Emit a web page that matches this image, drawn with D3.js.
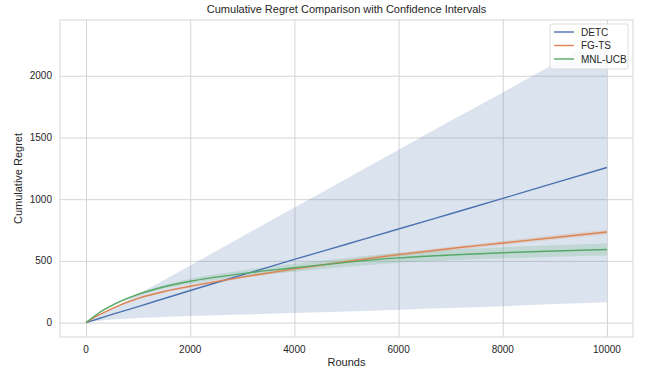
<!DOCTYPE html>
<html>
<head>
<meta charset="utf-8">
<script src="https://cdn.jsdelivr.net/npm/d3@7"></script>
<style>
  body { margin: 0; background: #fff; }
  text { font-family: "Liberation Sans", Arial, sans-serif; fill: #262626; }
</style>
</head>
<body>
<div id="chart"></div>
<script>
var rounds = [0, 250, 500, 1000, 1500, 2000, 3000, 4000, 5000, 6000, 7000, 8000, 9000, 10000];

var detcMean  = [0, 33, 66, 130, 195, 260, 386, 512, 635, 758, 882, 1006, 1132, 1257];
var detcLower = [0, 15, 25, 38, 46, 53, 65, 77, 90, 105, 118, 133, 150, 165];
var detcUpper = [0, 55, 112, 230, 345, 462, 698, 932, 1165, 1400, 1635, 1865, 2100, 2335];

var fgtsMean  = [0, 62, 114, 196, 252, 294, 368, 435, 495, 551, 600, 645, 690, 734];
var fgtsLower = [0, 58, 108, 188, 243, 284, 357, 423, 482, 537, 585, 629, 673, 716];
var fgtsUpper = [0, 66, 120, 204, 261, 304, 379, 447, 508, 565, 615, 661, 707, 752];

var mnlMean  = [0, 80, 140, 228, 290, 335, 397, 444, 488, 524, 548, 566, 580, 592];
var mnlLower = [0, 75, 132, 216, 276, 315, 371, 412, 452, 485, 506, 521, 533, 543];
var mnlUpper = [0, 85, 148, 240, 304, 355, 423, 476, 524, 563, 590, 611, 627, 641];

var seriesNames = ["DETC", "FG-TS", "MNL-UCB"];
var xTicks = [0, 2000, 4000, 6000, 8000, 10000];
var yTicks = [0, 500, 1000, 1500, 2000];

var colors = ["#4c72b0", "#dd8452", "#55a868"];
var series = [
  {name: seriesNames[0], mean: detcMean, lo: detcLower, hi: detcUpper},
  {name: seriesNames[1], mean: fgtsMean, lo: fgtsLower, hi: fgtsUpper},
  {name: seriesNames[2], mean: mnlMean,  lo: mnlLower,  hi: mnlUpper}
];

var W = 646, H = 374;
var margin = {top: 20, right: 13, bottom: 37, left: 60};
var width = W - margin.left - margin.right,
    height = H - margin.top - margin.bottom;

// matplotlib-style 5% padding around the data
var xMin = d3.min(rounds), xMax = d3.max(rounds);
var yMin = d3.min(series, function(s) { return d3.min(s.lo); }),
    yMax = d3.max(series, function(s) { return d3.max(s.hi); });
var xPad = (xMax - xMin) * 0.05, yPad = (yMax - yMin) * 0.05;

var x = d3.scaleLinear().domain([xMin - xPad, xMax + xPad]).range([0, width]);
var y = d3.scaleLinear().domain([yMin - yPad, yMax + yPad]).range([height, 0]);

var svg = d3.select("#chart").append("svg")
    .attr("width", W)
    .attr("height", H);

var g = svg.append("g")
    .attr("transform", "translate(" + margin.left + "," + margin.top + ")");

// grid
g.append("g")
    .attr("transform", "translate(0," + height + ")")
    .call(d3.axisBottom(x).tickValues(xTicks).tickSize(-height).tickFormat(""))
    .call(function(a) { a.select(".domain").remove(); })
    .selectAll("line").attr("stroke", "#d5d5d5").attr("stroke-width", 1);

g.append("g")
    .call(d3.axisLeft(y).tickValues(yTicks).tickSize(-width).tickFormat(""))
    .call(function(a) { a.select(".domain").remove(); })
    .selectAll("line").attr("stroke", "#d5d5d5").attr("stroke-width", 1);

// bands
var area = d3.area()
    .x(function(d, i) { return x(rounds[i]); })
    .y0(function(d) { return y(d[0]); })
    .y1(function(d) { return y(d[1]); })
    .curve(d3.curveMonotoneX);

var line = d3.line()
    .x(function(d, i) { return x(rounds[i]); })
    .y(function(d) { return y(d); })
    .curve(d3.curveMonotoneX);

series.forEach(function(s, k) {
  g.append("path")
      .datum(s.lo.map(function(v, i) { return [v, s.hi[i]]; }))
      .attr("d", area)
      .attr("fill", colors[k])
      .attr("fill-opacity", 0.2);
});

series.forEach(function(s, k) {
  g.append("path")
      .datum(s.mean)
      .attr("d", line)
      .attr("fill", "none")
      .attr("stroke", colors[k])
      .attr("stroke-width", 1.4);
});

// frame
g.append("rect")
    .attr("width", width).attr("height", height)
    .attr("fill", "none").attr("stroke", "#d5d5d5").attr("stroke-width", 1);

// tick labels
g.selectAll(".xl").data(xTicks).enter().append("text")
    .attr("x", function(d) { return x(d); })
    .attr("y", height + 16)
    .attr("text-anchor", "middle")
    .style("font-size", "10px")
    .text(function(d) { return d; });

g.selectAll(".yl").data(yTicks).enter().append("text")
    .attr("x", -8)
    .attr("y", function(d) { return y(d) + 3.5; })
    .attr("text-anchor", "end")
    .style("font-size", "10px")
    .text(function(d) { return d; });

// labels
g.append("text")
    .attr("x", width / 2).attr("y", height + 29)
    .attr("text-anchor", "middle")
    .style("font-size", "11px")
    .text("Rounds");

g.append("text")
    .attr("transform", "translate(-38," + (height / 2) + ") rotate(-90)")
    .attr("text-anchor", "middle")
    .style("font-size", "11px")
    .text("Cumulative Regret");

svg.append("text")
    .attr("x", margin.left + width / 2).attr("y", 13)
    .attr("text-anchor", "middle")
    .style("font-size", "11px")
    .text("Cumulative Regret Comparison with Confidence Intervals");

// legend
var lg = g.append("g").attr("transform", "translate(" + (width - 83) + ",4)");
lg.append("rect")
    .attr("width", 78).attr("height", 45).attr("rx", 2)
    .attr("fill", "#fff").attr("fill-opacity", 0.8)
    .attr("stroke", "#dddddd");
series.forEach(function(s, k) {
  var yy = 8 + k * 13.5;
  lg.append("line")
      .attr("x1", 4).attr("x2", 24).attr("y1", yy).attr("y2", yy)
      .attr("stroke", colors[k]).attr("stroke-width", 1.4);
  lg.append("text")
      .attr("x", 31).attr("y", yy + 3.5)
      .style("font-size", "10px")
      .text(s.name);
});
</script>
</body>
</html>
